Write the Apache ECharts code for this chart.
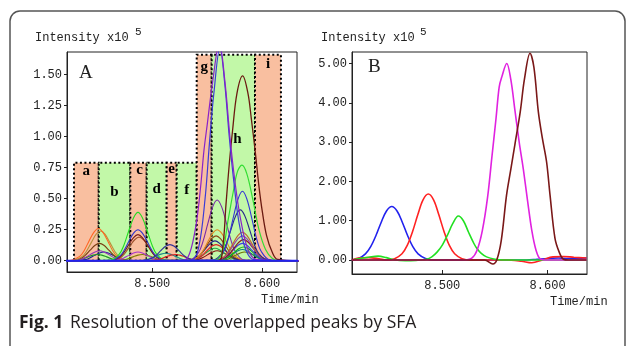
<!DOCTYPE html>
<html><head><meta charset="utf-8">
<script src="https://cdn.jsdelivr.net/npm/echarts@6/dist/echarts.min.js"></script>
<style>html,body{margin:0;padding:0;background:#fff}#c{width:630px;height:346px}</style>
</head><body><div id="c"></div>
<script>
// ---------------- data ----------------
const xTicks = [8.5, 8.6];
const yTicksA = [0, 0.25, 0.5, 0.75, 1.0, 1.25, 1.5];
const yTicksB = [0, 1, 2, 3, 4, 5];
const regionLabels = ['a','b','c','d','e','f','g','h','i'];
const regionEdges = [8.4288, 8.4513, 8.4800, 8.4949, 8.5131, 8.5222, 8.5404, 8.5540, 8.5934, 8.6170];
const regionTops = [0.79, 0.79, 0.79, 0.79, 0.79, 0.79, 1.66, 1.66, 1.66];

// Panel A: retention-time grids (min) for peaks with the same apex
const tA450 = [8.425,8.433,8.437,8.4415,8.446,8.450,8.454,8.4585,8.463,8.467,8.475];
const tA451 = [8.426,8.434,8.438,8.4425,8.447,8.451,8.455,8.4595,8.464,8.468,8.476];
const tA452 = [8.427,8.435,8.439,8.4435,8.448,8.452,8.456,8.4605,8.465,8.469,8.477];
const tA453 = [8.428,8.436,8.440,8.4445,8.449,8.453,8.457,8.4615,8.466,8.470,8.478];
const tA456 = [8.431,8.439,8.443,8.4475,8.452,8.456,8.460,8.4645,8.469,8.473,8.481];
const tA487 = [8.462,8.470,8.474,8.4785,8.483,8.487,8.491,8.4955,8.500,8.504,8.512];
const tA488 = [8.463,8.471,8.475,8.4795,8.484,8.488,8.492,8.4965,8.501,8.505,8.513];
const tA491 = [8.466,8.474,8.478,8.4825,8.487,8.491,8.495,8.4995,8.504,8.508,8.516];
const tA512 = [8.487,8.495,8.499,8.5035,8.508,8.512,8.516,8.5205,8.525,8.529,8.537];
const tA516 = [8.491,8.499,8.503,8.5075,8.512,8.516,8.520,8.5245,8.529,8.533,8.541];
const tA521 = [8.496,8.504,8.508,8.5125,8.517,8.521,8.525,8.5295,8.534,8.538,8.546];
const tA557 = [8.532,8.540,8.544,8.5485,8.553,8.557,8.561,8.5655,8.570,8.574,8.582];
const tA558 = [8.533,8.541,8.545,8.5495,8.554,8.558,8.562,8.5665,8.571,8.575,8.583];
const tA559 = [8.534,8.542,8.546,8.5505,8.555,8.559,8.563,8.5675,8.572,8.576,8.584];
const tA580 = [8.555,8.563,8.567,8.5715,8.576,8.580,8.584,8.5885,8.593,8.597,8.605];
const tA582 = [8.557,8.565,8.569,8.5735,8.578,8.582,8.586,8.5905,8.595,8.599,8.607];
const tA583 = [8.558,8.566,8.570,8.5745,8.579,8.583,8.587,8.5915,8.596,8.600,8.608];
const tA584 = [8.559,8.567,8.571,8.5755,8.580,8.584,8.588,8.5925,8.597,8.601,8.609];

// Panel A: intensities (x10^5) on those grids
const vA_a1 = [0.003,0.035,0.081,0.159,0.231,0.26,0.231,0.159,0.081,0.035,0.003];
const vA_a2 = [0.002,0.032,0.074,0.146,0.214,0.24,0.214,0.146,0.074,0.032,0.002];
const vA_a3 = [0.001,0.019,0.043,0.085,0.125,0.14,0.125,0.085,0.043,0.019,0.001];
const vA_a4 = [0.001,0.011,0.025,0.049,0.071,0.08,0.071,0.049,0.025,0.011,0.001];
const vA_a5 = [0.001,0.009,0.022,0.043,0.062,0.07,0.062,0.043,0.022,0.009,0.001];
const vA_a6 = [0,0.007,0.016,0.031,0.045,0.05,0.045,0.031,0.016,0.007,0];
const vA_c1 = [0.004,0.053,0.121,0.238,0.347,0.39,0.347,0.238,0.121,0.053,0.004];
const vA_c2 = [0.003,0.034,0.078,0.153,0.223,0.25,0.223,0.153,0.078,0.034,0.003];
const vA_c3 = [0.002,0.028,0.065,0.128,0.187,0.21,0.187,0.128,0.065,0.028,0.002];
const vA_c4 = [0.002,0.026,0.059,0.116,0.169,0.19,0.169,0.116,0.059,0.026,0.002];
const vA_c5 = [0.001,0.009,0.022,0.043,0.062,0.07,0.062,0.043,0.022,0.009,0.001];
const vA_c6 = [0,0.007,0.016,0.031,0.045,0.05,0.045,0.031,0.016,0.007,0];
const vA_d1 = [0.001,0.018,0.040,0.079,0.116,0.13,0.116,0.079,0.040,0.018,0.001];
const vA_d2 = [0.001,0.008,0.019,0.037,0.053,0.06,0.053,0.037,0.019,0.008,0.001];
const vA_d3 = [0,0.007,0.016,0.031,0.045,0.05,0.045,0.031,0.016,0.007,0];
const vA_g1 = [0.005,0.066,0.152,0.299,0.436,0.49,0.436,0.299,0.152,0.066,0.005];
const vA_g2 = [0.003,0.034,0.078,0.153,0.223,0.25,0.223,0.153,0.078,0.034,0.003];
const vA_g3 = [0.002,0.027,0.062,0.122,0.178,0.20,0.178,0.122,0.062,0.027,0.002];
const vA_g4 = [0.002,0.022,0.050,0.098,0.142,0.16,0.142,0.098,0.050,0.022,0.002];
const vA_g5 = [0.001,0.018,0.040,0.079,0.116,0.13,0.116,0.079,0.040,0.018,0.001];
const vA_g6 = [0.001,0.014,0.031,0.061,0.089,0.10,0.089,0.061,0.031,0.014,0.001];
const vA_g7 = [0.001,0.011,0.025,0.049,0.071,0.08,0.071,0.049,0.025,0.011,0.001];
const vA_h1 = [0.006,0.076,0.174,0.342,0.498,0.56,0.498,0.342,0.174,0.076,0.006];
const vA_h2 = [0.004,0.055,0.127,0.250,0.365,0.41,0.365,0.250,0.127,0.055,0.004];
const vA_h3 = [0.002,0.031,0.071,0.140,0.205,0.23,0.205,0.140,0.071,0.031,0.002];
const vA_h4 = [0.002,0.027,0.062,0.122,0.178,0.20,0.178,0.122,0.062,0.027,0.002];
const vA_h5 = [0.002,0.023,0.053,0.104,0.151,0.17,0.151,0.104,0.053,0.023,0.002];
const vA_h6 = [0.001,0.019,0.043,0.085,0.125,0.14,0.125,0.085,0.043,0.019,0.001];
const vA_h7 = [0.001,0.015,0.034,0.067,0.098,0.11,0.098,0.067,0.034,0.015,0.001];
const vA_h8 = [0.001,0.012,0.028,0.055,0.080,0.09,0.080,0.055,0.028,0.012,0.001];
const vA_h9 = [0.001,0.009,0.022,0.043,0.062,0.07,0.062,0.043,0.022,0.009,0.001];

// Panel A: large peaks, [time, intensity]
const violetA = [[8.42,0],[8.528,0],[8.534,0.06],[8.540,0.3],[8.544,0.6],[8.547,0.89],[8.550,1.1],[8.555,1.45],[8.561,1.76],[8.566,1.45],[8.5706,1.0],[8.575,0.65],[8.580,0.35],[8.587,0.09],[8.595,0.01],[8.635,0]];
const blueBigA = [[8.42,0],[8.535,0],[8.542,0.1],[8.548,0.5],[8.552,0.95],[8.556,1.35],[8.5615,1.72],[8.566,1.42],[8.570,1.0],[8.574,0.65],[8.579,0.3],[8.585,0.09],[8.592,0.01],[8.635,0]];
const brownBigA = [[8.42,0],[8.560,0],[8.564,0.1],[8.567,0.45],[8.570,0.78],[8.573,1.05],[8.577,1.35],[8.5822,1.49],[8.587,1.35],[8.590,1.15],[8.5935,0.89],[8.597,0.6],[8.600,0.4],[8.604,0.2],[8.609,0.07],[8.614,0.01],[8.635,0]];
const greenBigA = [[8.42,0],[8.555,0],[8.563,0.05],[8.569,0.33],[8.5735,0.55],[8.5775,0.72],[8.5815,0.77],[8.586,0.70],[8.5915,0.49],[8.597,0.25],[8.603,0.09],[8.609,0.02],[8.615,0],[8.635,0]];
const baseA = [[8.42,0],[8.635,0]];

// Panel B: resolved components, [time, intensity]
const blueB = [[8.414,0],[8.42,0.03],[8.427,0.155],[8.432,0.34],[8.437,0.623],[8.442,0.962],[8.447,1.247],[8.452,1.36],[8.457,1.247],[8.462,0.962],[8.467,0.623],[8.472,0.34],[8.477,0.155],[8.484,0.04],[8.492,0],[8.58,0],[8.59,0.02],[8.60,0.04],[8.61,0.05],[8.62,0.04],[8.637,0.05]];
const redB = [[8.414,0],[8.42,0.05],[8.43,0.06],[8.44,0.03],[8.447,0],[8.4547,0.035],[8.4617,0.16],[8.4667,0.37],[8.4717,0.72],[8.4767,1.15],[8.4817,1.53],[8.4867,1.68],[8.4917,1.53],[8.4967,1.15],[8.5017,0.72],[8.5067,0.37],[8.5117,0.16],[8.5187,0.035],[8.527,0],[8.56,0],[8.575,-0.03],[8.585,-0.07],[8.595,0],[8.605,0.08],[8.615,0.09],[8.625,0.07],[8.637,0.05]];
const greenB = [[8.414,0],[8.42,0.03],[8.43,0.07],[8.439,0.1],[8.447,0.06],[8.455,0],[8.465,-0.02],[8.475,-0.01],[8.485,0.02],[8.49,0.08],[8.495,0.2],[8.5,0.38],[8.505,0.64],[8.510,0.93],[8.5152,1.12],[8.520,1.0],[8.5247,0.72],[8.53,0.42],[8.5327,0.30],[8.537,0.17],[8.542,0.08],[8.55,0.02],[8.558,0],[8.637,0]];
const magentaB = [[8.414,0],[8.52,0],[8.528,0.05],[8.533,0.25],[8.538,0.75],[8.543,1.6],[8.547,2.6],[8.551,3.6],[8.554,4.4],[8.5565,4.66],[8.5612,5.0],[8.565,4.6],[8.569,3.8],[8.573,3.0],[8.577,2.3],[8.581,1.5],[8.585,0.75],[8.589,0.25],[8.593,0.03],[8.6,0],[8.637,0]];
const brownB = [[8.414,0],[8.54,0],[8.548,-0.1],[8.5517,0],[8.556,0.5],[8.561,1.65],[8.565,2.3],[8.569,2.95],[8.574,3.77],[8.578,4.6],[8.5833,5.26],[8.587,4.9],[8.5912,3.77],[8.595,3.1],[8.599,2.5],[8.6023,1.65],[8.607,0.55],[8.611,0.2],[8.615,0.02],[8.62,0],[8.637,0]];

// ---------------- build ----------------
function zip(t, v) { return [[8.42, 0]].concat(t.map((x, i) => [x, v[i]]), [[8.635, 0]]); }

const peaksA = [
  [tA456, vA_a5, '#222299'], [tA450, vA_a6, '#229922'], [tA452, vA_a4, '#9933BB'],
  [tA452, vA_a3, '#7B3F12'], [tA453, vA_a2, '#B8923A'], [tA451, vA_a1, '#FF6622'],
  [tA491, vA_c6, '#808000'], [tA487, vA_c5, '#AA33CC'], [tA488, vA_c4, '#A0522D'],
  [tA487, vA_c3, '#7A1A1A'], [tA487, vA_c2, '#3333CC'], [tA487, vA_c1, '#22DD22'],
  [tA512, vA_d2, '#228888'], [tA521, vA_d3, '#DD2222'], [tA516, vA_d1, '#333399'],
  [tA559, vA_g7, '#801010'], [tA557, vA_g6, '#22AA44'], [tA558, vA_g5, '#DD2222'],
  [tA557, vA_g4, '#222288'], [tA558, vA_g3, '#8B4513'], [tA559, vA_g2, '#E08A20'],
  [tA559, vA_g1, '#7A2AA8'],
  [tA584, vA_h9, '#707000'], [tA582, vA_h8, '#108080'], [tA583, vA_h7, '#10B010'],
  [tA582, vA_h6, '#4040E0'], [tA583, vA_h5, '#8B1A1A'], [tA582, vA_h4, '#9040B0'],
  [tA582, vA_h3, '#C06030'], [tA580, vA_h2, '#2A2A8A'], [tA582, vA_h1, '#3535D5']
];

const ORANGE = '#F9BFA0', GREEN = '#C2F8A8';
const labelGap = [2, 23, 1, 20, 0, 21, 6, 78, 3];
const labelDx = [0, 0, 1, 0, 0, 0, 0, 4, 0];
const areaData = regionLabels.map((lab, i) => [
  { name: lab, xAxis: regionEdges[i], yAxis: 0,
    itemStyle: { color: i % 2 === 0 ? ORANGE : GREEN },
    label: { distance: labelGap[i], offset: [labelDx[i], 0] } },
  { xAxis: regionEdges[i + 1], yAxis: regionTops[i] }
]);

const series = [];
series.push({
  type: 'line', xAxisIndex: 0, yAxisIndex: 0, data: [], silent: true, z: 1,
  markArea: {
    silent: true, z: 1,
    itemStyle: { borderColor: '#000', borderWidth: 2, borderType: [2, 2.5] },
    label: { show: true, position: 'insideTop', color: '#000',
      fontFamily: 'Liberation Serif', fontSize: 15, fontWeight: 'bold' },
    data: areaData
  }
});
function lineS(grid, data, color, w) {
  return { type: 'line', xAxisIndex: grid, yAxisIndex: grid, data: data, showSymbol: false,
    smooth: 0.35, lineStyle: { color: color, width: w }, z: 3, silent: true };
}
peaksA.forEach(p => series.push(lineS(0, zip(p[0], p[1]), p[2], 1.1)));
series.push(lineS(0, greenBigA, '#33DD33', 1.2));
series.push(lineS(0, brownBigA, '#6B1A10', 1.3));
series.push(lineS(0, blueBigA, '#3A3AD8', 1.2));
series.push(lineS(0, violetA, '#8A22C8', 1.2));
series.push(lineS(0, baseA, '#2222EE', 2));

series.push(lineS(1, blueB, '#2222EE', 1.6));
series.push(lineS(1, redB, '#FF2222', 1.6));
series.push(lineS(1, greenB, '#22E022', 1.6));
series.push(lineS(1, magentaB, '#E022E0', 1.6));
series.push(lineS(1, brownB, '#7A1818', 1.6));

const monoFont = 'Liberation Mono';
function xAx(grid, min, max) {
  return { type: 'value', gridIndex: grid, min: min, max: max,
    axisLine: { onZero: false, lineStyle: { color: '#222', width: 1 } },
    axisTick: { show: true, inside: true, length: 4, customValues: xTicks, lineStyle: { color: '#222' } },
    axisLabel: { customValues: xTicks, formatter: v => v.toFixed(3), margin: 6,
      color: '#222', fontFamily: monoFont, fontSize: 12 },
    splitLine: { show: false } };
}
function yAx(grid, min, max, ticks) {
  return { type: 'value', gridIndex: grid, min: min, max: max,
    axisLine: { onZero: false, lineStyle: { color: '#222', width: 1 } },
    axisTick: { show: true, inside: false, length: 3, customValues: ticks, lineStyle: { color: '#222' } },
    axisLabel: { customValues: ticks, formatter: v => v.toFixed(2), margin: 5,
      color: '#222', fontFamily: monoFont, fontSize: 12 },
    splitLine: { show: false } };
}

function txt(x, y, s, size, family, extra) {
  return Object.assign({ type: 'text', x: x, y: y, z: 10,
    style: Object.assign({ text: s, fill: '#222', font: size + 'px "' + family + '"',
      verticalAlign: 'middle' }, extra || {}) });
}

const option = {
  animation: false,
  backgroundColor: '#fff',
  grid: [
    { left: 67, top: 52, width: 230, height: 220, show: true, borderColor: '#222', borderWidth: 1, backgroundColor: 'transparent' },
    { left: 352, top: 52, width: 235, height: 222, show: true, borderColor: '#222', borderWidth: 1, backgroundColor: 'transparent' }
  ],
  xAxis: [xAx(0, 8.42245, 8.6316), xAx(1, 8.41424, 8.6374)],
  yAxis: [yAx(0, -0.091, 1.683, yTicksA), yAx(1, -0.356, 5.293, yTicksB)],
  series: series,
  graphic: [
    { type: 'rect', z: 0, shape: { x: 10, y: 11, width: 615, height: 360, r: 10 },
      style: { fill: null, stroke: '#555', lineWidth: 1.5 } },
    txt(35, 38, 'Intensity x10', 12, monoFont),
    txt(135, 32, '5', 11, monoFont),
    txt(321, 38, 'Intensity x10', 12, monoFont),
    txt(420, 32, '5', 11, monoFont),
    txt(261, 300, 'Time/min', 12, monoFont),
    txt(550, 302, 'Time/min', 12, monoFont),
    txt(79, 73, 'A', 19, 'Liberation Serif'),
    txt(368, 67, 'B', 19, 'Liberation Serif'),
    { type: 'text', x: 19, y: 323, z: 10,
      style: { text: '{b|Fig. 1}  {r|Resolution of the overlapped peaks by SFA}', verticalAlign: 'middle',
        rich: { b: { font: 'bold 17.5px "Open Sans"', fill: '#231F20' },
                r: { font: '17.5px "Open Sans"', fill: '#231F20' } } } }
  ]
};
const chart = echarts.init(document.getElementById('c'), null, { renderer: 'canvas' });
chart.setOption(option);
</script></body></html>
